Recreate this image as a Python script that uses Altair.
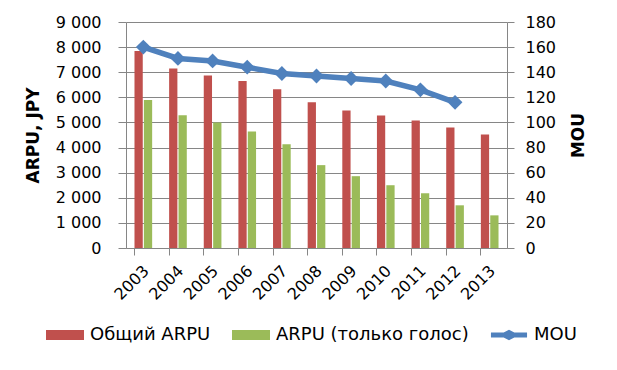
import altair as alt
import pandas as pd

years = ["2003", "2004", "2005", "2006", "2007", "2008", "2009", "2010", "2011", "2012", "2013"]
arpu_total = [7850, 7150, 6870, 6650, 6320, 5800, 5480, 5280, 5080, 4800, 4520]
arpu_voice = [5890, 5290, 5000, 4640, 4130, 3300, 2860, 2500, 2180, 1700, 1300]
mou_years = ["2003", "2004", "2005", "2006", "2007", "2008", "2009", "2010", "2011", "2012"]
mou = [160, 151, 149, 144, 139, 137, 135, 133, 126, 116]

series = ["Общий ARPU", "ARPU (только голос)", "MOU"]
colors = ["#C0504D", "#9BBB59", "#4F81BD"]
shapes = [
    "M-1,-0.26H1V0.26H-1Z",
    "M-1,-0.26H1V0.26H-1Z",
    "M-0.95,-0.13H-0.28L0,-0.28L0.28,-0.13H0.95V0.13H0.28L0,0.28L-0.28,0.13H-0.95Z",
]

FONT = "DejaVu Sans"
GRAY = "#868686"

bars_df = pd.DataFrame(
    {"year": years * 2,
     "series": [series[0]] * len(years) + [series[1]] * len(years),
     "value": arpu_total + arpu_voice}
)
mou_df = pd.DataFrame({"year": mou_years, "mou": mou})
leg_df = pd.DataFrame({"series": series})

color_scale = alt.Scale(domain=series, range=colors)


def make_legend():
    return alt.Legend(title=None, orient="none", direction="horizontal", legendX=-80, legendY=294,
                      symbolSize=1444, symbolStrokeWidth=0, symbolOpacity=1,
                      labelFont=FONT, labelFontSize=18,
                      labelColor="black", labelOffset=6, columnPadding=21, padding=0, labelLimit=400)


bars = alt.Chart(bars_df).mark_bar().encode(
    x=alt.X("year:N", sort=years,
            scale=alt.Scale(domain=years, paddingInner=0.49, paddingOuter=0.245),
            axis=alt.Axis(title=None, labelAngle=315, labelAlign="right", labelBaseline="middle",
                          labelPadding=20, labelOffset=3, labelFontSize=16, labelFont=FONT,
                          labelColor="black", ticks=False, domainColor=GRAY, grid=False,
                          orient="bottom")),
    xOffset=alt.XOffset("series:N", sort=series[:2],
                        scale=alt.Scale(domain=series[:2], paddingInner=0.12)),
    y=alt.Y("value:Q", scale=alt.Scale(domain=[0, 9000]),
            axis=alt.Axis(values=list(range(0, 9001, 1000)),
                          labelExpr="replace(format(datum.value, ','), ',', ' ')",
                          title="ARPU, JPY", titleFont=FONT, titleFontSize=17, titleFontWeight="bold",
                          titleColor="black", titlePadding=13,
                          labelFont=FONT, labelFontSize=16, labelColor="black", labelPadding=17,
                          tickSize=8, tickColor=GRAY, domainColor=GRAY,
                          grid=True, gridColor=GRAY, gridWidth=1)),
    color=alt.Color("series:N", scale=color_scale, legend=make_legend(), sort=series),
)

line = alt.Chart(mou_df).mark_line(
    color="#4F81BD", strokeWidth=5.5,
    point=alt.OverlayMarkDef(shape="diamond", size=220, filled=True, color="#4F81BD"),
).encode(
    x=alt.X("year:N", sort=years,
            axis=alt.Axis(bandPosition=0, labels=False, domain=False, ticks=True, tickSize=7,
                          tickColor=GRAY, orient="bottom", title=None, grid=False)),
    y=alt.Y("mou:Q", scale=alt.Scale(domain=[0, 180]),
            axis=alt.Axis(orient="right", values=list(range(0, 181, 20)),
                          title="MOU", titleAngle=270, titleBaseline="top", titleFont=FONT,
                          titleFontSize=17, titleFontWeight="bold", titleColor="black",
                          titlePadding=15,
                          labelFont=FONT, labelFontSize=16, labelColor="black", labelPadding=11,
                          tickSize=7, tickColor=GRAY, domainColor=GRAY, grid=False)),
)

legend_layer = alt.Chart(leg_df).mark_point(filled=True, size=0, strokeWidth=0, opacity=1).encode(
    x=alt.value(0), y=alt.value(0),
    color=alt.Color("series:N", scale=color_scale, legend=make_legend(), sort=series),
    shape=alt.Shape("series:N", scale=alt.Scale(domain=series, range=shapes),
                    legend=make_legend(), sort=series),
)

chart = (
    alt.layer(bars, line, legend_layer)
    .resolve_scale(y="independent")
    .resolve_axis(x="independent")
    .properties(width=381, height=226, padding={"left": 16, "top": 6, "right": 5, "bottom": 5})
    .configure_view(stroke=None)
)

chart.save("out.html", embed_options={"renderer": "svg", "actions": False})
